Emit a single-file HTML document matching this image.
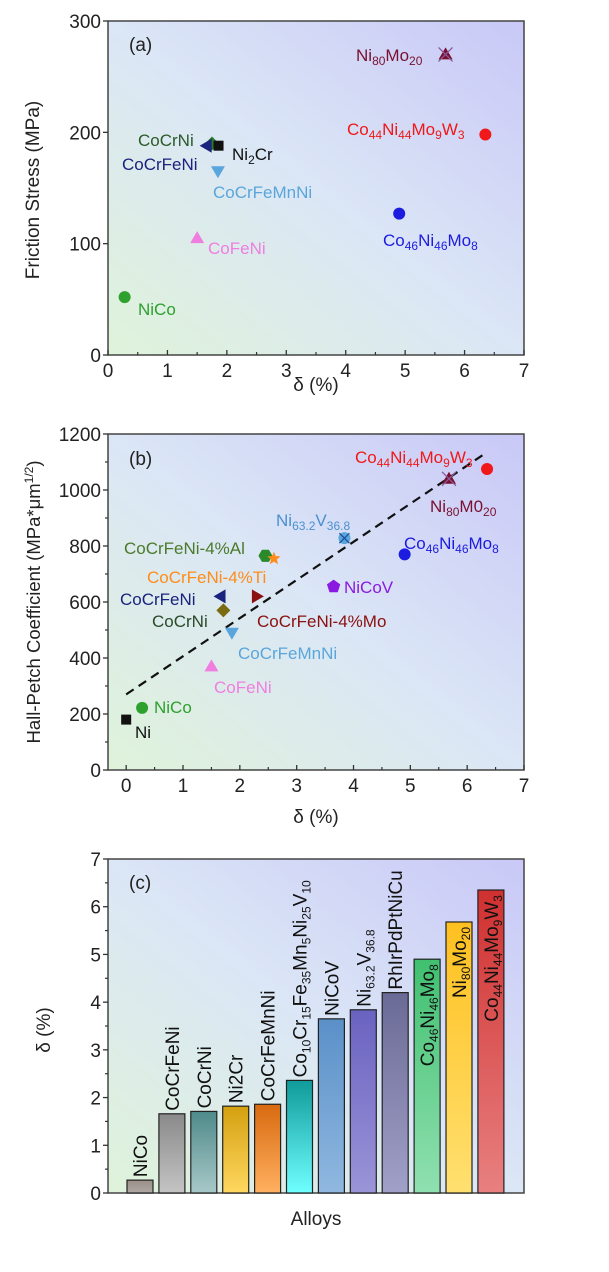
<!DOCTYPE html>
<html><head><meta charset="utf-8"><style>
body{margin:0;background:#fff;width:609px;height:1272px;overflow:hidden}
svg{display:block;font-family:"Liberation Sans",sans-serif}
</style></head><body>
<svg id="s" width="609" height="1272" viewBox="0 0 609 1272">
<defs>
<linearGradient id="bg" x1="0" y1="1" x2="1" y2="0">
<stop offset="0" stop-color="#dff3da"/><stop offset="0.5" stop-color="#dbe6f6"/><stop offset="1" stop-color="#c9c8f7"/>
</linearGradient>
</defs>
</svg>
<script>
const NS='http://www.w3.org/2000/svg';
const S=document.getElementById('s');
function mk(t,a,p,txt){const e=document.createElementNS(NS,t);for(const k in a)e.setAttribute(k,a[k]);if(txt!==undefined)e.textContent=txt;(p||S).appendChild(e);return e;}

// ---------- data ----------
const aNames=['NiCo','CoFeNi','CoCrFeMnNi','CoCrNi','CoCrFeNi','Ni2Cr','Co46Ni46Mo8','Co44Ni44Mo9W3','Ni80Mo20'];
const aDelta=[0.28,1.5,1.85,1.75,1.66,1.86,4.9,6.35,5.68];
const aStress=[52,105,165,190,188,188,127,198,270];
const aTicksY=[0,100,200,300];
const xTicks=[0,1,2,3,4,5,6,7];
const bNames=['Ni','NiCo','CoFeNi','CoCrFeMnNi','CoCrNi','CoCrFeNi','CoCrFeNi-4%Mo','CoCrFeNi-4%Al','CoCrFeNi-4%Ti','Ni63.2V36.8','NiCoV','Co46Ni46Mo8','Ni80Mo20','Co44Ni44Mo9W3'];
const bDelta=[0,0.28,1.5,1.86,1.71,1.66,2.3,2.45,2.6,3.84,3.65,4.9,5.68,6.35];
const bK=[180,222,370,490,570,620,620,765,755,828,655,770,1040,1075];
const bFitX=[0,6.35];
const bFitY=[270,1135];
const bTicksY=[0,200,400,600,800,1000,1200];
const cNames=['NiCo','CoCrFeNi','CoCrNi','Ni2Cr','CoCrFeMnNi','Co10Cr15Fe35Mn5Ni25V10','NiCoV','Ni63.2V36.8','RhIrPdPtNiCu','Co46Ni46Mo8','Ni80Mo20','Co44Ni44Mo9W3'];
const cDelta=[0.27,1.66,1.71,1.82,1.86,2.36,3.65,3.84,4.2,4.9,5.68,6.35];
const cTicksY=[0,1,2,3,4,5,6,7];

// ---------- helpers ----------
function frame(name,x0,y0,x1,y1){
  const r=mk('rect',{x:x0,y:y0,width:x1-x0,height:y1-y0,fill:'url(#bg)',stroke:'#444','stroke-width':1.5});
  
}
function yAxis(name,ticks,Y,x0,minor){
  const g=mk('g',{});
  ticks.forEach((v,i)=>{
    mk('line',{x1:x0-5,x2:x0,y1:Y(v),y2:Y(v),stroke:'#333','stroke-width':1.3},g);
    const t=mk('text',{x:x0-7,y:Y(v)+7,'text-anchor':'end','font-size':19,fill:'#222'},g,String(v));
    
    if(minor&&i<ticks.length-1){const m=(v+ticks[i+1])/2;mk('line',{x1:x0-3,x2:x0,y1:Y(m),y2:Y(m),stroke:'#333','stroke-width':1.2},g);}
  });
}
function xAxis(name,ticks,X,y0){
  const g=mk('g',{});
  ticks.forEach((v,i)=>{
    mk('line',{x1:X(v),x2:X(v),y1:y0,y2:y0-5,stroke:'#333','stroke-width':1.3},g);
    const t=mk('text',{x:X(v),y:y0+22,'text-anchor':'middle','font-size':19,fill:'#222'},g,String(v));
    
    if(i<ticks.length-1){const m=v+0.5;mk('line',{x1:X(m),x2:X(m),y1:y0,y2:y0-3,stroke:'#333','stroke-width':1.2},g);}
  });
}
function label(txt,x,y,color,size,anchor,rot,name){
  const t=mk('text',{x:x,y:y,fill:color,'font-size':size,'text-anchor':anchor||'start'});
  if(rot)t.setAttribute('transform','rotate(-90 '+x+' '+y+')');
  t.innerHTML=txt;
  
  return t;
}
function marker(shape,x,y,color,name){
  let e;const r=6;
  if(shape==='circle')e=mk('circle',{cx:x,cy:y,r:r,fill:color});
  else if(shape==='square')e=mk('rect',{x:x-5,y:y-5,width:10,height:10,fill:color});
  else if(shape==='up')e=mk('polygon',{points:`${x},${y-7} ${x+7},${y+5} ${x-7},${y+5}`,fill:color});
  else if(shape==='down')e=mk('polygon',{points:`${x-7},${y-5} ${x+7},${y-5} ${x},${y+7}`,fill:color});
  else if(shape==='left')e=mk('polygon',{points:`${x-7},${y} ${x+5},${y-7} ${x+5},${y+7}`,fill:color});
  else if(shape==='right')e=mk('polygon',{points:`${x+7},${y} ${x-5},${y-7} ${x-5},${y+7}`,fill:color});
  else if(shape==='diamond')e=mk('polygon',{points:`${x},${y-7} ${x+7},${y} ${x},${y+7} ${x-7},${y}`,fill:color});
  else if(shape==='hex'){let p=[];for(let k=0;k<6;k++){const a=Math.PI/3*k;p.push((x+7*Math.cos(a))+','+(y+7*Math.sin(a)));}e=mk('polygon',{points:p.join(' '),fill:color});}
  else if(shape==='pent'){let p=[];for(let k=0;k<5;k++){const a=-Math.PI/2+2*Math.PI/5*k;p.push((x+7*Math.cos(a))+','+(y+7*Math.sin(a)));}e=mk('polygon',{points:p.join(' '),fill:color});}
  else if(shape==='star'){let p=[];for(let k=0;k<10;k++){const a=-Math.PI/2+Math.PI/5*k,rr=k%2?3:7;p.push((x+rr*Math.cos(a))+','+(y+rr*Math.sin(a)));}e=mk('polygon',{points:p.join(' '),fill:color});}
  else if(shape==='xtri'){e=mk('g',{});mk('polygon',{points:`${x},${y-7} ${x+7},${y+5} ${x-7},${y+5}`,fill:color},e);mk('path',{d:`M${x-7} ${y-7}L${x+7} ${y+7}M${x+7} ${y-7}L${x-7} ${y+7}`,stroke:'#8a5a9a','stroke-width':1.3},e);}
  else if(shape==='xcirc'){e=mk('g',{});mk('circle',{cx:x,cy:y,r:6,fill:color},e);mk('path',{d:`M${x-5} ${y-5}L${x+5} ${y+5}M${x+5} ${y-5}L${x-5} ${y+5}`,stroke:'#1b4f9a','stroke-width':1.3},e);}
  
  return e;
}
const sub=s=>'<tspan dy="4" font-size="12">'+s+'</tspan><tspan dy="-4">';
const F=17;

// ---------- panel a ----------
{
  const x0=108,x1=524,yb=355,yt=21;
  const X=v=>x0+v*(x1-x0)/7, Y=v=>yb-v*(yb-yt)/300;
  frame('panel-a',x0,yt,x1,yb);
  yAxis('panel-a',aTicksY,Y,x0,false);
  xAxis('panel-a',xTicks,X,yb);
  label('Friction Stress (MPa)',39,190,'#222',19,'middle',true,'y-axis-title');
  label('δ (%)',316,391,'#222',19,'middle',false,'x-axis-title');
  label('(a)',129,51,'#222',19,'start',false,'panel-label');
  const sh=['circle','up','down','diamond','left','square','circle','circle','xtri'];
  const col=['#2ea02e','#f07ee0','#5aa6dc','#2a7a2a','#1a237e','#111','#1c1ce0','#f01818','#7a1030'];
  aNames.forEach((n,i)=>marker(sh[i],X(aDelta[i]),Y(aStress[i]),col[i],n.toLowerCase()));
  label('NiCo',138,315,'#2ea02e',F);
  label('CoFeNi',208,254,'#f07ee0',F);
  label('CoCrFeMnNi',213,198,'#5aa6dc',F);
  label('CoCrNi',138,146,'#2a5a2a',F);
  label('CoCrFeNi',122,170,'#1a237e',F);
  label('Ni'+sub('2')+'Cr</tspan>',232,160,'#111',F);
  label('Co'+sub('46')+'Ni</tspan>'+sub('46')+'Mo</tspan>'+sub('8')+'</tspan>',383,246,'#1c1ce0',F);
  label('Co'+sub('44')+'Ni</tspan>'+sub('44')+'Mo</tspan>'+sub('9')+'W</tspan>'+sub('3')+'</tspan>',347,135,'#f01818',F);
  label('Ni'+sub('80')+'Mo</tspan>'+sub('20')+'</tspan>',356,61,'#7a1030',F);
}

// ---------- panel b ----------
{
  const x0=108,x1=524,yb=770,yt=434;
  const X=v=>x0+(v+0.32)*(x1-x0)/7.32, Y=v=>yb-v*(yb-yt)/1200;
  frame('panel-b',x0,yt,x1,yb);
  yAxis('panel-b',bTicksY,Y,x0,true);
  xAxis('panel-b',xTicks,X,yb);
  label('Hall-Petch Coefficient (MPa*μm<tspan dy="-7" font-size="12">1/2</tspan><tspan dy="7">)</tspan>',40,602,'#222',18.5,'middle',true,'y-axis-title');
  label('δ (%)',316,823,'#222',19,'middle',false,'x-axis-title');
  label('(b)',129,465,'#222',19,'start',false,'panel-label');
  const fit=mk('line',{x1:X(bFitX[0]),y1:Y(bFitY[0]),x2:X(bFitX[1]),y2:Y(bFitY[1]),stroke:'#111','stroke-width':2.2,'stroke-dasharray':'9,6'});
  
  const sh=['square','circle','up','down','diamond','left','right','hex','star','xcirc','pent','circle','xtri','circle'];
  const col=['#111','#2ea02e','#f07ee0','#5aa6dc','#7a6a10','#1a237e','#8b1010','#2a8a2a','#ff8c1a','#5aa6dc','#8a1ae0','#1c1ce0','#7a1030','#f01818'];
  bNames.forEach((n,i)=>marker(sh[i],X(bDelta[i]),Y(bK[i]),col[i],n.toLowerCase()));
  label('Ni',135,738,'#111',F);
  label('NiCo',154,713,'#2ea02e',F);
  label('CoFeNi',214,693,'#f07ee0',F);
  label('CoCrFeMnNi',238,659,'#5aa6dc',F);
  label('CoCrNi',152,627,'#2a4a2a',F);
  label('CoCrFeNi',120,605,'#1a237e',F);
  label('CoCrFeNi-4%Mo',257,627,'#8b1010',F);
  label('CoCrFeNi-4%Ti',147,583,'#ff8c1a',F);
  label('CoCrFeNi-4%Al',124,554,'#4a7a2a',F);
  label('Ni'+sub('63.2')+'V</tspan>'+sub('36.8')+'</tspan>',276,526,'#4a90d0',F);
  label('NiCoV',344,593,'#8a1ae0',F);
  label('Co'+sub('46')+'Ni</tspan>'+sub('46')+'Mo</tspan>'+sub('8')+'</tspan>',404,549,'#1c1ce0',F);
  label('Ni'+sub('80')+'M0</tspan>'+sub('20')+'</tspan>',430,512,'#7a1030',F);
  label('Co'+sub('44')+'Ni</tspan>'+sub('44')+'Mo</tspan>'+sub('9')+'W</tspan>'+sub('3')+'</tspan>',355,463,'#f01818',F);
}

// ---------- panel c ----------
{
  const x0=108,x1=524,yb=1193,yt=859;
  const Y=v=>yb-v*(yb-yt)/7;
  const bw=26,step=31.9,left=127;
  frame('panel-c',x0,yt,x1,yb);
  yAxis('panel-c',cTicksY,Y,x0,true);
  label('δ (%)',50,1030,'#222',19,'middle',true,'y-axis-title');
  label('Alloys',316,1225,'#222',19,'middle',false,'x-axis-title');
  label('(c)',129,889,'#222',19,'start',false,'panel-label');
  const top=['#9a8e88','#8a8a8a','#4f8a8a','#d4a010','#d86a10','#109a9a','#5a90c8','#6a62c0','#6a6a96','#40c070','#ffc020','#d03030'];
  const bot=['#b0a8a4','#c4c4c4','#a8c8c8','#ffd860','#ffb060','#70ffff','#90b8e0','#9a94d8','#a0a0c8','#90e0b0','#ffe070','#e88080'];
  const labels=['NiCo','CoCrFeNi','CoCrNi','Ni2Cr','CoCrFeMnNi',
   'Co'+sub('10')+'Cr</tspan>'+sub('15')+'Fe</tspan>'+sub('35')+'Mn</tspan>'+sub('5')+'Ni</tspan>'+sub('25')+'V</tspan>'+sub('10')+'</tspan>',
   'NiCoV','Ni'+sub('63.2')+'V</tspan>'+sub('36.8')+'</tspan>','RhIrPdPtNiCu',
   'Co'+sub('46')+'Ni</tspan>'+sub('46')+'Mo</tspan>'+sub('8')+'</tspan>',
   'Ni'+sub('80')+'Mo</tspan>'+sub('20')+'</tspan>',
   'Co'+sub('44')+'Ni</tspan>'+sub('44')+'Mo</tspan>'+sub('9')+'W</tspan>'+sub('3')+'</tspan>'];
  const defs=S.querySelector('defs');
  cNames.forEach((n,i)=>{
    const g=mk('linearGradient',{id:'bg'+i,x1:0,y1:0,x2:0,y2:1},defs);
    mk('stop',{offset:0,'stop-color':top[i]},g);mk('stop',{offset:1,'stop-color':bot[i]},g);
    const x=left+i*step;
    const r=mk('rect',{x:x,y:Y(cDelta[i]),width:bw,height:yb-Y(cDelta[i]),fill:'url(#bg'+i+')',stroke:'#222','stroke-width':1.2});
    
    const inside=i>=9;
    const ly=inside?Y(cDelta[i])+5:Y(cDelta[i])-3;
    label(labels[i],x+bw/2+7,ly,'#111',19,inside?'end':'start',true,'bar-label');
  });
}
</script>
</body></html>
